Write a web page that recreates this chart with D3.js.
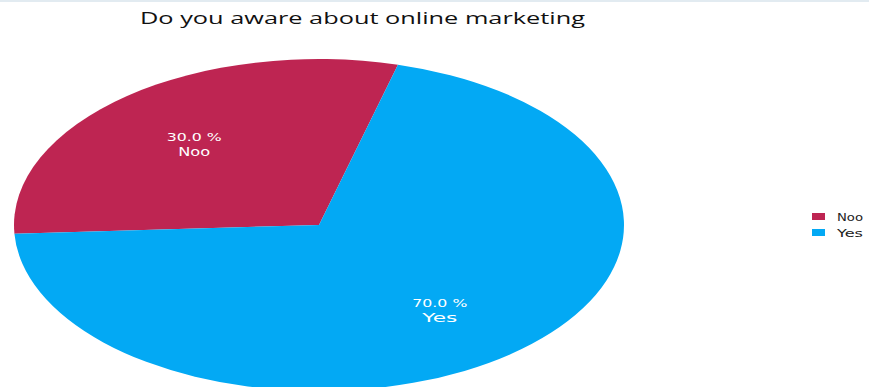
<!DOCTYPE html>
<html>
<head>
<meta charset="utf-8">
<script src="https://cdn.jsdelivr.net/npm/d3@7"></script>
<style>
  html, body { margin: 0; padding: 0; background: #fff; }
  svg { display: block; }
</style>
</head>
<body>
<svg id="chart" width="869" height="387"></svg>
<script>
// Survey answers
const categories = ["Noo", "Yes"];
const shares = [30.0, 70.0];
const colors = ["#BE2552", "#03A9F4"];
const titleText = "Do you aware about online marketing";

const svg = d3.select("#chart");
const W = 869, H = 387;

// thin top band
svg.append("rect").attr("x", 0).attr("y", 0).attr("width", W).attr("height", 2).attr("fill", "#e2ebf1");

// title (glyphs stretched to the chart's wide aspect)
svg.append("text")
  .attr("x", 140).attr("y", 24)
  .attr("textLength", 445).attr("lengthAdjust", "spacingAndGlyphs")
  .style("font-family", "'Open Sans', sans-serif")
  .style("font-size", "17px")
  .attr("fill", "#111")
  .text(titleText);

// pie: drawn as a circle, then stretched horizontally into an ellipse
const cx = 319, cy = 225, r = 166, rx = 305;
const sx = rx / r;

const data = categories.map((c, i) => ({ cat: c, value: shares[i], color: colors[i] }));
const pie = d3.pie().value(d => d.value).sort(null)
  .startAngle(-93 * Math.PI / 180)
  .endAngle(-93 * Math.PI / 180 + 2 * Math.PI);
const arcs = pie(data);
const arc = d3.arc().innerRadius(0).outerRadius(r);
const labelArc = d3.arc().innerRadius(r * 0.64).outerRadius(r * 0.64);

svg.append("g")
  .attr("transform", `translate(${cx},${cy}) scale(${sx},1)`)
  .selectAll("path")
  .data(arcs)
  .join("path")
  .attr("d", arc)
  .attr("fill", d => d.data.color);

// slice labels
const lab = svg.append("g").selectAll("g").data(arcs).join("g")
  .attr("transform", d => {
    const [px, py] = labelArc.centroid(d);
    return `translate(${cx + px * sx - 2},${cy + py})`;
  });
lab.append("text")
  .attr("text-anchor", "middle").attr("y", -1)
  .attr("textLength", 55).attr("lengthAdjust", "spacingAndGlyphs")
  .style("font-family", "'DejaVu Sans', sans-serif").style("font-size", "11px")
  .attr("fill", "#fff")
  .text(d => d.data.value.toFixed(1) + " %");
lab.append("text")
  .attr("text-anchor", "middle").attr("y", 14)
  .attr("textLength", d => d.data.cat === "Noo" ? 32 : 35).attr("lengthAdjust", "spacingAndGlyphs")
  .style("font-family", "'DejaVu Sans', sans-serif").style("font-size", "13px")
  .attr("fill", "#fff")
  .text(d => d.data.cat);

// legend
const legend = svg.append("g").attr("transform", "translate(812,213)");
const items = legend.selectAll("g").data(data).join("g")
  .attr("transform", (d, i) => `translate(0,${i * 16})`);
items.append("rect").attr("width", 13).attr("height", 7).attr("fill", d => d.color);
items.append("text")
  .attr("x", 25).attr("y", 8)
  .attr("textLength", 26).attr("lengthAdjust", "spacingAndGlyphs")
  .style("font-family", "'DejaVu Sans', sans-serif").style("font-size", "10px")
  .attr("fill", "#222")
  .text(d => d.cat);
</script>
</body>
</html>
